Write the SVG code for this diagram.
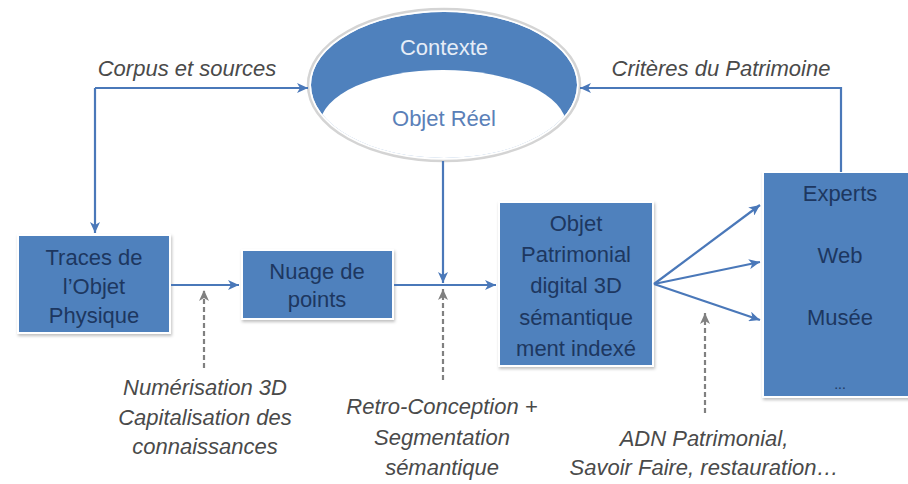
<svg xmlns="http://www.w3.org/2000/svg" width="908" height="484" viewBox="0 0 908 484">
<defs>
  <style>
    .box { fill: #4f81bd; stroke: #ffffff; stroke-width: 2; filter: url(#sh); }
    .bt { font-family: "Liberation Sans", Arial, sans-serif; font-size: 22px; fill: #1d3760; text-anchor: middle; }
    .lbl { font-family: "Liberation Sans", Arial, sans-serif; font-size: 22px; font-style: italic; fill: #4a4a4a; text-anchor: middle; }
    .con { fill: none; stroke: #4a78b9; stroke-width: 2.2; }
    .dash { fill: none; stroke: #808080; stroke-width: 2.2; stroke-dasharray: 5 3; }
  </style>
  <filter id="sh" x="-10%" y="-10%" width="120%" height="120%">
    <feDropShadow dx="1" dy="2" stdDeviation="1.5" flood-color="#000" flood-opacity="0.25"/>
  </filter>
  <marker id="ab" markerUnits="userSpaceOnUse" markerWidth="12" markerHeight="10" refX="11" refY="5" orient="auto">
    <path d="M0,0 L11,5 L0,10 L3,5 z" fill="#4a78b9"/>
  </marker>
  <marker id="ag" markerUnits="userSpaceOnUse" markerWidth="12" markerHeight="10" refX="11" refY="5" orient="auto">
    <path d="M0,0 L11,5 L0,10 L3,5 z" fill="#808080"/>
  </marker>
  <clipPath id="ec">
    <ellipse cx="444" cy="85" rx="133" ry="73"/>
  </clipPath>
</defs>

<g id="contexte">
  <ellipse cx="444" cy="85" rx="136" ry="76" fill="#ffffff" stroke="#d4d4d4" stroke-width="2.5"/>
  <g clip-path="url(#ec)">
    <ellipse cx="444" cy="85" rx="133" ry="73" fill="#4f81bd"/>
    <ellipse cx="443" cy="125" rx="123" ry="55" fill="#ffffff"/>
  </g>
  <text x="444" y="55" class="bt" style="fill:#e6edf7">Contexte</text>
  <text x="444" y="126" class="bt" style="fill:#5a80b8">Objet Réel</text>
</g>

<g id="traces">
  <rect x="18" y="235" width="152" height="98" class="box"/>
  <text x="94" y="265" class="bt">Traces de</text>
  <text x="94" y="294" class="bt">l’Objet</text>
  <text x="94" y="323" class="bt">Physique</text>
</g>

<g id="nuage">
  <rect x="242" y="250" width="151" height="69" class="box"/>
  <text x="317" y="279" class="bt">Nuage de</text>
  <text x="317" y="307" class="bt">points</text>
</g>

<g id="objet">
  <rect x="499" y="202" width="154" height="164" class="box"/>
  <text x="576" y="231" class="bt">Objet</text>
  <text x="576" y="262" class="bt">Patrimonial</text>
  <text x="576" y="293" class="bt">digital 3D</text>
  <text x="576" y="325" class="bt">sémantique</text>
  <text x="576" y="356" class="bt">ment indexé</text>
</g>

<g id="experts">
  <rect x="763" y="172" width="160" height="225" class="box"/>
  <text x="840" y="201" class="bt">Experts</text>
  <text x="840" y="263" class="bt">Web</text>
  <text x="840" y="325" class="bt">Musée</text>
  <text x="840" y="389" class="bt" style="font-size:14px">...</text>
</g>

<g id="connectors">
  <polyline points="95,88 95,233" class="con" marker-end="url(#ab)"/>
  <polyline points="95,88 308,88" class="con" marker-end="url(#ab)"/>
  <polyline points="841,172 841,88 580,88" class="con" marker-end="url(#ab)"/>
  <line x1="443" y1="161" x2="443" y2="283" class="con" marker-end="url(#ab)"/>
  <line x1="171" y1="285" x2="239" y2="285" class="con" marker-end="url(#ab)"/>
  <line x1="394" y1="285" x2="496" y2="285" class="con" marker-end="url(#ab)"/>
  <line x1="654" y1="284" x2="760" y2="205" class="con" marker-end="url(#ab)"/>
  <line x1="654" y1="284" x2="760" y2="262" class="con" marker-end="url(#ab)"/>
  <line x1="654" y1="284" x2="760" y2="320" class="con" marker-end="url(#ab)"/>
  <line x1="204" y1="368" x2="204" y2="290" class="dash" marker-end="url(#ag)"/>
  <line x1="443" y1="380" x2="443" y2="289" class="dash" marker-end="url(#ag)"/>
  <line x1="705" y1="413" x2="705" y2="313" class="dash" marker-end="url(#ag)"/>
</g>

<g id="labels">
  <text x="187" y="76" class="lbl">Corpus et sources</text>
  <text x="721" y="76" class="lbl">Critères du Patrimoine</text>
  <text x="205" y="395" class="lbl">Numérisation 3D</text>
  <text x="205" y="425" class="lbl">Capitalisation des</text>
  <text x="205" y="454" class="lbl">connaissances</text>
  <text x="442" y="414" class="lbl">Retro-Conception +</text>
  <text x="442" y="445" class="lbl">Segmentation</text>
  <text x="442" y="475" class="lbl">sémantique</text>
  <text x="704" y="446" class="lbl">ADN Patrimonial,</text>
  <text x="704" y="475" class="lbl">Savoir Faire, restauration…</text>
</g>
</svg>
